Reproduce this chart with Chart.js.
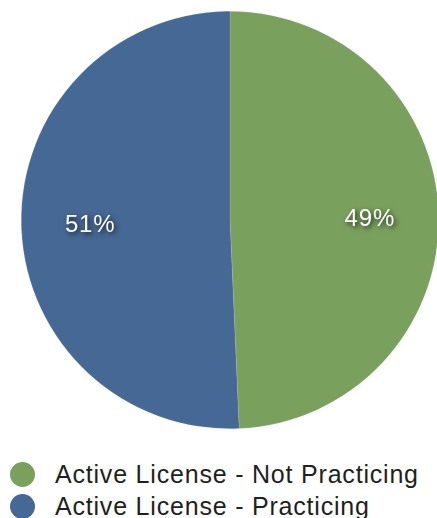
<!DOCTYPE html>
<html>
<head>
<meta charset="utf-8">
<script src="https://cdn.jsdelivr.net/npm/chart.js@4.4.0/dist/chart.umd.min.js"></script>
<style>
  html, body { margin: 0; padding: 0; background: #fff; overflow: hidden; width: 437px; height: 518px; }
  #wrap { position: absolute; left: 0; top: 0; width: 441px; height: 440px; }
  #legend { position: absolute; left: 0; top: 458px; font-family: "Liberation Sans", Arial, sans-serif; font-size: 25px; letter-spacing: 0.8px; color: #231f20; }
  .item { position: relative; height: 32px; line-height: 32px; padding-left: 55px; white-space: nowrap; }
  .dot { position: absolute; left: 10px; top: 4px; width: 25px; height: 25px; border-radius: 50%; }
</style>
</head>
<body>
<div id="wrap"><canvas id="pieCanvas"></canvas></div>
<div id="legend"></div>
<script>
var labels = ['Active License - Not Practicing', 'Active License - Practicing'];
var values = [49.3, 50.7];
var colors = ['#7aa05e', '#456894'];

// percentage text drawn on each slice, with a soft dark shadow
var sliceLabels = {
    id: 'sliceLabels',
    afterDatasetsDraw: function (chart) {
        var ctx = chart.ctx;
        var meta = chart.getDatasetMeta(0);
        var total = values.reduce(function (a, b) { return a + b; }, 0);
        ctx.save();
        ctx.font = '24px "Liberation Sans", Arial, sans-serif';
        ctx.letterSpacing = '0.8px';
        ctx.fillStyle = '#ffffff';
        ctx.textAlign = 'center';
        ctx.textBaseline = 'alphabetic';
        ctx.shadowColor = 'rgba(0,0,0,0.75)';
        ctx.shadowBlur = 5;
        ctx.shadowOffsetX = 2;
        ctx.shadowOffsetY = 2;
        for (var i = 0; i < meta.data.length; i++) {
            var arc = meta.data[i];
            var mid = (arc.startAngle + arc.endAngle) / 2;
            var r = arc.outerRadius * 0.67;
            var x = arc.x + Math.cos(mid) * r;
            var y = arc.y + Math.sin(mid) * r + 9;
            ctx.fillText(Math.round(values[i] / total * 100) + '%', x, y);
        }
        ctx.restore();
    }
};

new Chart(document.getElementById('pieCanvas'), {
    type: 'pie',
    data: {
        labels: labels,
        datasets: [{
            data: values,
            backgroundColor: colors,
            borderColor: 'rgba(255,255,255,0.25)',
            borderWidth: 0.5
        }]
    },
    options: {
        responsive: true,
        maintainAspectRatio: false,
        animation: false,
        layout: { padding: { left: 21, top: 11, right: 2, bottom: 11 } },
        plugins: {
            legend: { display: false },
            tooltip: { enabled: false }
        }
    },
    plugins: [sliceLabels]
});

var legend = document.getElementById('legend');
for (var i = 0; i < labels.length; i++) {
    var item = document.createElement('div');
    item.className = 'item';
    var dot = document.createElement('span');
    dot.className = 'dot';
    dot.style.background = colors[i];
    item.appendChild(dot);
    item.appendChild(document.createTextNode(labels[i]));
    legend.appendChild(item);
}
</script>
</body>
</html>
